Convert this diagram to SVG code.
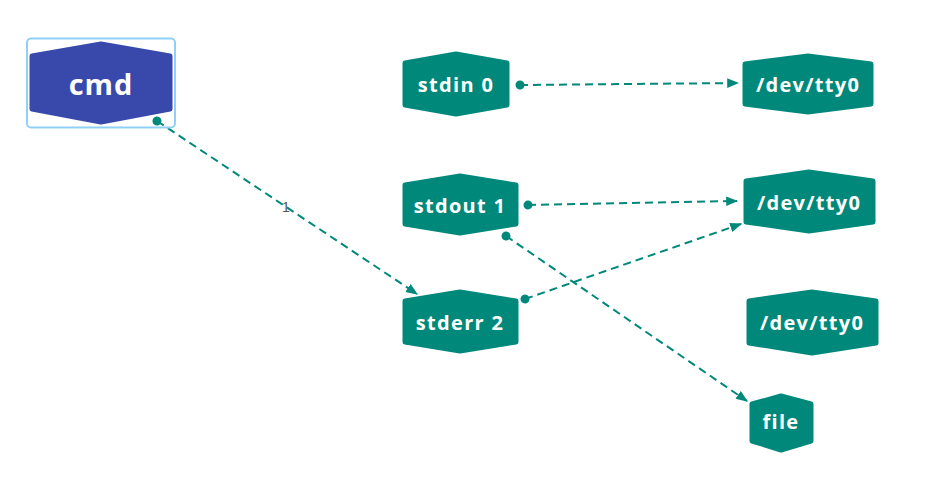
<svg xmlns="http://www.w3.org/2000/svg" width="930" height="494" viewBox="0 0 930 494">
<style>
.node{fill:#00897B;stroke:#00897B;stroke-width:5;stroke-linejoin:round}
.cmd{fill:#3949AB;stroke:#3949AB;stroke-width:5;stroke-linejoin:round}
.t{font-family:"Open Sans","Liberation Sans",sans-serif;font-weight:bold;fill:#fff;font-size:20px;letter-spacing:1.3px;text-anchor:middle;dominant-baseline:central}
.e{fill:none;stroke:#00897B;stroke-width:2;stroke-dasharray:8 5;marker-start:url(#dot);marker-end:url(#arr)}
</style>
<defs>
<marker id="arr" viewBox="0 0 10 10" refX="9" refY="5" markerWidth="6" markerHeight="6" orient="auto" markerUnits="strokeWidth"><path d="M0,1 L10,5 L0,9 Z" fill="#00897B"/></marker>
<marker id="dot" viewBox="0 0 10 10" refX="5" refY="5" markerWidth="5" markerHeight="5" orient="auto" markerUnits="strokeWidth"><circle cx="5" cy="5" r="4.5" fill="#00897B"/></marker>
</defs>
<g id="connectors">
<path class="e" d="M157,121 L417,294"/>
<path class="e" d="M520,85 L738,83"/>
<path class="e" d="M528,205 L737,201"/>
<path class="e" d="M506,236 L747,401"/>
<path class="e" d="M525,299 L741,224"/>
<text x="286" y="207" font-family="Liberation Sans,sans-serif" font-size="14" fill="#555" text-anchor="middle" dominant-baseline="central">1</text>
</g>
<g id="cmd">
<rect x="27" y="38.5" width="148" height="89" rx="4" fill="none" stroke="#90D0F8" stroke-width="2"/>
<path class="cmd" d="M32,56 L101,44 L170,56 L170,109 L101,122 L32,109 Z"/>
<text class="t" x="101" y="83" style="font-size:29px;letter-spacing:1px">cmd</text>
</g>
<g id="stdin0">
<path class="node" d="M405,63 L456,54 L507,63 L507,105 L456,114 L405,105 Z"/>
<text class="t" x="456" y="84">stdin 0</text>
</g>
<g id="devtty0a">
<path class="node" d="M745,64 L808,56 L871,64 L871,104 L808,112 L745,104 Z"/>
<text class="t" x="808" y="84">/dev/tty0</text>
</g>
<g id="stdout1">
<path class="node" d="M405,185 L460,176 L516,185 L516,224 L460,233 L405,224 Z"/>
<text class="t" x="460" y="205">stdout 1</text>
</g>
<g id="devtty0b">
<path class="node" d="M746,181 L809,172 L873,181 L873,222 L809,231 L746,222 Z"/>
<text class="t" x="809" y="202">/dev/tty0</text>
</g>
<g id="stderr2">
<path class="node" d="M405,301 L460,292 L516,301 L516,342 L460,351 L405,342 Z"/>
<text class="t" x="460" y="322">stderr 2</text>
</g>
<g id="devtty0c">
<path class="node" d="M749,301 L812,292 L876,301 L876,343 L812,353 L749,343 Z"/>
<text class="t" x="812" y="322">/dev/tty0</text>
</g>
<g id="file">
<path class="node" d="M752,404 L781,396 L811,404 L811,441 L781,450 L752,441 Z"/>
<text class="t" x="781" y="421">file</text>
</g>
</svg>
